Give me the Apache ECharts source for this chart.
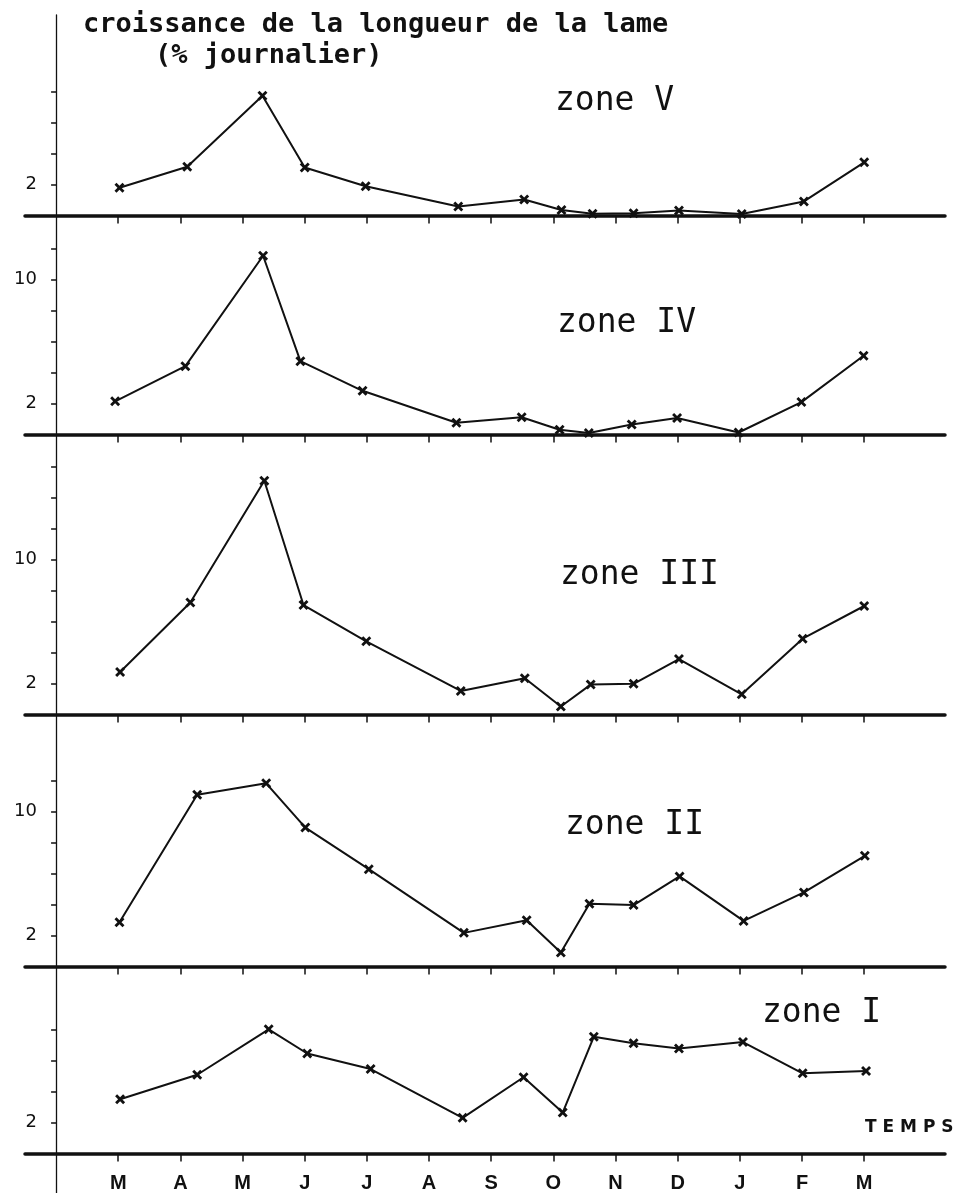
<!DOCTYPE html>
<html>
<head>
<meta charset="utf-8">
<title>croissance de la longueur de la lame</title>
<script src="https://cdn.jsdelivr.net/npm/echarts@6/dist/echarts.min.js"></script>
<style>
    html, body { margin: 0; padding: 0; background: #fff; }
    #chart { width: 955px; height: 1193px; }
</style>
</head>
<body>
<div id="chart"></div>
<script>
// mois : M = mars ... M = mars de l'année suivante (1 .. 13)
const monthLabels = ["M", "A", "M", "J", "J", "A", "S", "O", "N", "D", "J", "F", "M"];
const zoneNames = ["zone V", "zone IV", "zone III", "zone II", "zone I"];

// dates de prélèvement (en mois, 1 = mars) et croissance (% journalier)
const datesZoneV = [1.02, 2.11, 3.32, 4.0, 4.98, 6.47, 7.53, 8.13, 8.63, 9.29, 10.02, 11.03, 12.03, 13.0];
const growthZoneV = [1.79, 3.15, 7.72, 3.1, 1.89, 0.58, 1.03, 0.35, 0.12, 0.15, 0.32, 0.1, 0.91, 3.43];

const datesZoneIV = [0.95, 2.08, 3.33, 3.93, 4.93, 6.44, 7.49, 8.1, 8.57, 9.26, 9.99, 10.98, 11.99, 12.99];
const growthZoneIV = [2.14, 4.41, 11.53, 4.73, 2.82, 0.76, 1.11, 0.31, 0.1, 0.65, 1.07, 0.13, 2.09, 5.08];

const datesZoneIII = [1.03, 2.16, 3.35, 3.98, 4.99, 6.51, 7.54, 8.12, 8.6, 9.29, 10.02, 11.03, 12.01, 13.0];
const growthZoneIII = [2.74, 7.23, 15.08, 7.06, 4.72, 1.52, 2.34, 0.52, 1.93, 1.98, 3.58, 1.3, 4.89, 7.0];

const datesZoneII = [1.02, 2.27, 3.38, 4.01, 5.03, 6.56, 7.57, 8.12, 8.58, 9.29, 10.03, 11.06, 12.03, 13.01];
const growthZoneII = [2.86, 11.08, 11.82, 8.96, 6.28, 2.17, 2.98, 0.9, 4.05, 3.96, 5.81, 2.94, 4.78, 7.14];

const datesZoneI = [1.03, 2.27, 3.42, 4.04, 5.06, 6.54, 7.52, 8.15, 8.65, 9.29, 10.02, 11.05, 12.01, 13.03];
const growthZoneI = [3.5, 5.08, 8.01, 6.45, 5.45, 2.3, 4.92, 2.64, 7.53, 7.12, 6.77, 7.19, 5.17, 5.33];

// graduations de l'axe vertical de chaque zone, et celles qui portent un nombre
const yTicksV = [2, 4, 6, 8];
const yTicksIV = [2, 4, 6, 8, 10, 12];
const yTicksIII = [2, 4, 6, 8, 10, 12, 14, 16];
const yTicksII = [2, 4, 6, 8, 10, 12];
const yTicksI = [2, 4, 6, 8];
const yLabelsV = [2];
const yLabelsIV = [2, 10];
const yLabelsIII = [2, 10];
const yLabelsII = [2, 10];
const yLabelsI = [2];

const zoneDates = [datesZoneV, datesZoneIV, datesZoneIII, datesZoneII, datesZoneI];
const zoneGrowth = [growthZoneV, growthZoneIV, growthZoneIII, growthZoneII, growthZoneI];
const zoneYTicks = [yTicksV, yTicksIV, yTicksIII, yTicksII, yTicksI];
const zoneYLabels = [yLabelsV, yLabelsIV, yLabelsIII, yLabelsII, yLabelsI];

// mise en page (px)
const H = 1193;
const pxPerUnit = 15.5;
const topOfAxis = 15;
const baselines = [215.5, 434.5, 714.5, 966.5, 1153.5];
const labelTops = [85, 307, 559, 809, 997];
const labelLefts = [555, 557, 560, 565, 762];

const ink = "#111";
const cross = "path://M2,0 L5,3 L8,0 L10,2 L7,5 L10,8 L8,10 L5,7 L2,10 L0,8 L3,5 L0,2 Z";
const monthTicks = monthLabels.map((m, i) => i + 1);

let grids = [];
let xAxis = [];
let yAxis = [];
let series = [];
let titles = [
    {
        text: "croissance de la longueur de la lame",
        left: 83, top: 11, padding: 0,
        textStyle: { fontFamily: "DejaVu Sans Mono", fontSize: 27, fontWeight: "bold", color: ink }
    },
    {
        text: "(% journalier)",
        left: 155, top: 42, padding: 0,
        textStyle: { fontFamily: "DejaVu Sans Mono", fontSize: 27, fontWeight: "bold", color: ink }
    },
    {
        text: "T E M P S",
        left: 865, top: 1119, padding: 0,
        textStyle: { fontFamily: "DejaVu Sans", fontSize: 17, fontWeight: "bold", color: ink }
    }
];

for (let i = 0; i < 5; i++) {
    let top = i === 0 ? topOfAxis : baselines[i - 1];
    let bottom = i === 4 ? H : baselines[i];
    // outerBoundsMode none : la grille ne doit pas se rétrécir pour loger les libellés
    grids.push({ left: 25, right: 10, top: top, bottom: H - bottom, outerBoundsMode: "none", containLabel: false });

    xAxis.push({
        type: "value",
        gridIndex: i,
        min: -0.5,
        max: 14.3,
        axisLine: { show: true, onZero: true, lineStyle: { color: ink, width: 3.5 } },
        axisTick: { show: true, customValues: monthTicks, length: 8, lineStyle: { color: ink, width: 1.5 } },
        axisLabel: {
            show: i === 4,
            customValues: monthTicks,
            formatter: v => monthLabels[Math.round(v) - 1],
            // les libellés restent au bord de la grille, pas sur la ligne du zéro
            margin: -(H - baselines[4]) + 20,
            fontFamily: "Liberation Sans",
            fontSize: 20,
            fontWeight: "bold",
            color: ink
        },
        splitLine: { show: false }
    });

    yAxis.push({
        type: "value",
        gridIndex: i,
        min: i === 4 ? -(H - baselines[4]) / pxPerUnit : 0,
        max: (baselines[i] - top) / pxPerUnit,
        axisLine: { show: true, onZero: true, lineStyle: { color: ink, width: 1.3 } },
        axisTick: { show: true, customValues: zoneYTicks[i], length: 5, lineStyle: { color: ink, width: 1.5 } },
        axisLabel: {
            show: true,
            customValues: zoneYLabels[i],
            margin: -12,
            fontFamily: "DejaVu Sans",
            fontSize: 18,
            color: ink
        },
        splitLine: { show: false }
    });

    series.push({
        name: zoneNames[i],
        type: "line",
        xAxisIndex: i,
        yAxisIndex: i,
        data: zoneDates[i].map((d, k) => [d, zoneGrowth[i][k]]),
        symbol: cross,
        symbolSize: 10,
        lineStyle: { color: ink, width: 2 },
        itemStyle: { color: ink },
        z: 3
    });

    titles.push({
        text: zoneNames[i],
        left: labelLefts[i],
        top: labelTops[i],
        padding: 0,
        textStyle: { fontFamily: "DejaVu Sans Mono", fontSize: 33, fontWeight: "normal", color: ink }
    });
}

const chart = echarts.init(document.getElementById("chart"));
chart.setOption({
    backgroundColor: "#fff",
    animation: false,
    title: titles,
    grid: grids,
    xAxis,
    yAxis,
    series
});
</script>
</body>
</html>
